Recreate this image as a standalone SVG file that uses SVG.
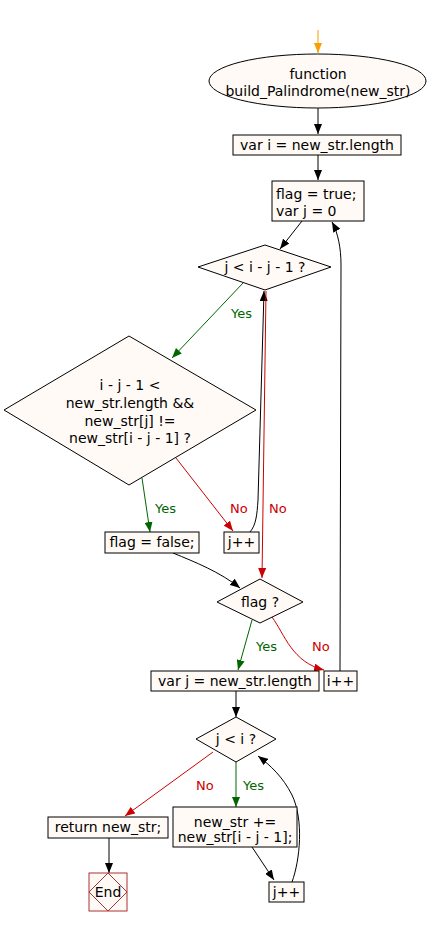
<svg xmlns="http://www.w3.org/2000/svg" width="429" height="926" viewBox="0 0 429 926">
<style>
.s{fill:#fffaf5;stroke:#000;stroke-width:1}
.t{font-family:"DejaVu Sans",sans-serif;font-size:14px;fill:#000}
.m{text-anchor:middle}
.c{fill:none;stroke:#000;stroke-width:1}
.g{stroke:#006600}
.r{stroke:#cc0000}
.o{stroke:#f5a000}
.lg{font-family:"DejaVu Sans",sans-serif;font-size:13px;fill:#006600}
.lr{font-family:"DejaVu Sans",sans-serif;font-size:13px;fill:#cc0000}
</style>
<defs>
<marker id="ab" markerWidth="10" markerHeight="8" refX="10" refY="4" orient="auto" markerUnits="userSpaceOnUse"><path d="M0,0 L10,4 L0,8 z" fill="#000"/></marker>
<marker id="ag" markerWidth="10" markerHeight="8" refX="10" refY="4" orient="auto" markerUnits="userSpaceOnUse"><path d="M0,0 L10,4 L0,8 z" fill="#006600"/></marker>
<marker id="ar" markerWidth="10" markerHeight="8" refX="10" refY="4" orient="auto" markerUnits="userSpaceOnUse"><path d="M0,0 L10,4 L0,8 z" fill="#cc0000"/></marker>
<marker id="ao" markerWidth="10" markerHeight="8" refX="10" refY="4" orient="auto" markerUnits="userSpaceOnUse"><path d="M0,0 L10,4 L0,8 z" fill="#f5a000"/></marker>
</defs>
<rect width="429" height="926" fill="#fff"/>
<g id="connectors">
<path class="c o" d="M318,30 L318,53" marker-end="url(#ao)"/>
<path class="c" d="M318,108 L318,134" marker-end="url(#ab)"/>
<path class="c" d="M318,155 L318,180" marker-end="url(#ab)"/>
<path class="c" d="M302,221 L280,249" marker-end="url(#ab)"/>
<path class="c" d="M340,671 L341,265 C341,248 338,233 332,222" marker-end="url(#ab)"/>
<path class="c g" d="M243,283 L172,358" marker-end="url(#ag)"/>
<path class="c g" d="M142,478 L150,532" marker-end="url(#ag)"/>
<path class="c r" d="M176,458 L233,531" marker-end="url(#ar)"/>
<path class="c" d="M250,532 C256,525 257,515 258,500 L264,291" marker-end="url(#ab)"/>
<path class="c r" d="M266,291 L262,578" marker-end="url(#ar)"/>
<path class="c" d="M173,553 C195,562 220,572 240,588" marker-end="url(#ab)"/>
<path class="c g" d="M252,620 L238,670" marker-end="url(#ag)"/>
<path class="c r" d="M272,617 C285,635 292,662 324,670" marker-end="url(#ar)"/>
<path class="c" d="M236,691 L236,717" marker-end="url(#ab)"/>
<path class="c g" d="M236,762 L236,807" marker-end="url(#ag)"/>
<path class="c r" d="M213,752 L125,816" marker-end="url(#ar)"/>
<path class="c" d="M109,838 L109,873" marker-end="url(#ab)"/>
<path class="c" d="M252,847 L274,880" marker-end="url(#ab)"/>
<path class="c" d="M292,882 C300,860 304,820 292,795 C283,777 270,765 258,756" marker-end="url(#ab)"/>
<text class="lg" x="231" y="318">Yes</text>
<text class="lg" x="155" y="513">Yes</text>
<text class="lr" x="230" y="513">No</text>
<text class="lr" x="269" y="513">No</text>
<text class="lg" x="256" y="651">Yes</text>
<text class="lr" x="312" y="651">No</text>
<text class="lg" x="243" y="790">Yes</text>
<text class="lr" x="196" y="790">No</text>
</g>
<g id="start">
<ellipse class="s" cx="317.5" cy="81" rx="108.5" ry="27"/>
<text class="t m" x="318" y="79">function</text>
<text class="t m" x="318" y="96">build_Palindrome(new_str)</text>
</g>
<g id="vari">
<rect class="s" x="233" y="135" width="168" height="20"/>
<text class="t m" x="317" y="150">var i = new_str.length</text>
</g>
<g id="flagtrue">
<rect class="s" x="272" y="181" width="92" height="40"/>
<text class="t" x="276" y="199">flag = true;</text>
<text class="t" x="276" y="216">var j = 0</text>
</g>
<g id="cond1">
<path class="s" d="M265,245 L331,267 L265,290 L198,267 z"/>
<text class="t m" x="265" y="272">j &lt; i - j - 1 ?</text>
</g>
<g id="cond2">
<path class="s" d="M129,336 L256,410 L129,485 L4,410 z"/>
<text class="t m" x="130" y="390">i - j - 1 &lt;</text>
<text class="t m" x="130" y="408">new_str.length &amp;&amp;</text>
<text class="t m" x="130" y="426">new_str[j] !=</text>
<text class="t m" x="130" y="443">new_str[i - j - 1] ?</text>
</g>
<g id="flagfalse">
<rect class="s" x="105" y="532" width="94" height="21"/>
<text class="t m" x="152" y="547">flag = false;</text>
</g>
<g id="jinc1">
<rect class="s" x="224" y="532" width="35" height="21"/>
<text class="t m" x="241.5" y="547">j++</text>
</g>
<g id="flagq">
<path class="s" d="M260,579 L303,602 L260,623 L217,602 z"/>
<text class="t m" x="260" y="607">flag ?</text>
</g>
<g id="varj">
<rect class="s" x="151" y="671" width="168" height="20"/>
<text class="t m" x="235" y="686">var j = new_str.length</text>
</g>
<g id="iinc">
<rect class="s" x="324" y="671" width="33" height="20"/>
<text class="t m" x="340.5" y="686">i++</text>
</g>
<g id="cond3">
<path class="s" d="M236,717 L276,739 L236,762 L196,739 z"/>
<text class="t m" x="236" y="744">j &lt; i ?</text>
</g>
<g id="append">
<rect class="s" x="173" y="807" width="124" height="40"/>
<text class="t m" x="235" y="827">new_str +=</text>
<text class="t m" x="235" y="842">new_str[i - j - 1];</text>
</g>
<g id="ret">
<rect class="s" x="48" y="817" width="120" height="21"/>
<text class="t m" x="108" y="832">return new_str;</text>
</g>
<g id="jinc2">
<rect class="s" x="269" y="882" width="35" height="20"/>
<text class="t m" x="286.5" y="897">j++</text>
</g>
<g id="end">
<rect x="89" y="873" width="38" height="38" fill="#fffaf5" stroke="#a33" stroke-width="1"/>
<path d="M108,873 L127,892 L108,911 L89,892 z" fill="none" stroke="#a33" stroke-width="1"/>
<text class="t m" x="108" y="897">End</text>
</g>
</svg>
